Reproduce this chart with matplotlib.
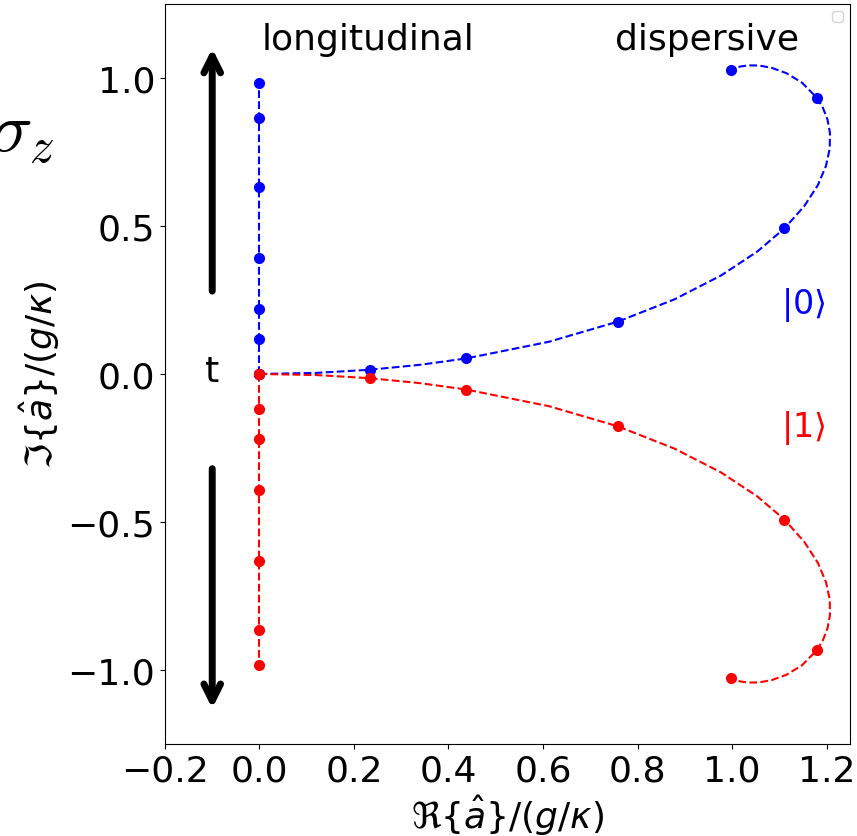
import matplotlib
matplotlib.use("Agg")
import matplotlib.pyplot as plt

# Marker samples (longitudinal: along imaginary axis)
long_y_up = [0.0, 0.1175, 0.2212, 0.3935, 0.6321, 0.8647, 0.9817]
long_y_down = [0.0, -0.1175, -0.2212, -0.3935, -0.6321, -0.8647, -0.9817]

# Dispersive marker samples
disp_x = [0.0, 0.2344, 0.4381, 0.7585, 1.1108, 1.1794, 0.9981]
disp_y0 = [0.0, 0.0144, 0.0527, 0.1769, 0.4917, 0.9333, 1.0258]
disp_y1 = [0.0, -0.0144, -0.0527, -0.1769, -0.4917, -0.9333, -1.0258]

# Dispersive trajectory (dense curve)
curve_x = [0.0, 0.1211, 0.2344, 0.3400, 0.4381, 0.6122, 0.7585, 0.8791, 0.9764,
           1.0528, 1.1108, 1.1529, 1.1816, 1.1988, 1.2068, 1.2073, 1.2020,
           1.1923, 1.1794, 1.1482, 1.1149, 1.0835, 1.0563, 1.0344, 1.0177,
           1.0059, 0.9981]
curve_y0 = [0.0, 0.0037, 0.0144, 0.0310, 0.0527, 0.1087, 0.1769, 0.2528, 0.3324,
            0.4128, 0.4917, 0.5671, 0.6378, 0.7028, 0.7616, 0.8141, 0.8600,
            0.8996, 0.9333, 0.9842, 1.0166, 1.0347, 1.0423, 1.0427, 1.0389,
            1.0327, 1.0258]
curve_y1 = [-v for v in curve_y0]

fs = 26
fig = plt.figure(figsize=(8.57, 8.37), dpi=100)
ax = fig.add_axes([0.1925, 0.110, 0.7995, 0.884])

# longitudinal
ax.plot([0.0] * len(long_y_up), long_y_up, 'o--', color='blue', ms=7, lw=1.5)
ax.plot([0.0] * len(long_y_down), long_y_down, 'o--', color='red', ms=7, lw=1.5)

# dispersive
ax.plot(curve_x, curve_y0, '--', color='blue', lw=1.5)
ax.plot(curve_x, curve_y1, '--', color='red', lw=1.5)
ax.plot(disp_x, disp_y0, 'o', color='blue', ms=7)
ax.plot(disp_x, disp_y1, 'o', color='red', ms=7)

# arrows
ax.annotate('', xy=(-0.1, 1.1), xytext=(-0.1, 0.28),
            arrowprops=dict(arrowstyle='->', lw=5, color='black', mutation_scale=30,
                            shrinkA=0, shrinkB=0))
ax.annotate('', xy=(-0.1, -1.13), xytext=(-0.1, -0.32),
            arrowprops=dict(arrowstyle='->', lw=5, color='black', mutation_scale=30,
                            shrinkA=0, shrinkB=0))
ax.text(-0.1, 0.01, 't', fontsize=fs, ha='center', va='center')

ax.text(0.005, 1.098, 'longitudinal', fontsize=fs, ha='left', va='baseline')
ax.text(0.753, 1.098, 'dispersive', fontsize=fs, ha='left', va='baseline')
ax.text(1.151, 0.236, r'$|0\rangle$', fontsize=24, color='blue', ha='center', va='center')
ax.text(1.151, -0.18, r'$|1\rangle$', fontsize=24, color='red', ha='center', va='center')

fig.text(-0.0117, 0.8184, r'$\sigma_z$', fontsize=50, math_fontfamily='cm',
         ha='left', va='baseline')

ax.set_xlim(-0.2, 1.25)
ax.set_ylim(-1.25, 1.25)
ax.set_xticks([-0.2, 0.0, 0.2, 0.4, 0.6, 0.8, 1.0, 1.2])
ax.set_yticks([-1.0, -0.5, 0.0, 0.5, 1.0])
ax.tick_params(labelsize=fs)
ax.set_xlabel(r'$\Re\{\hat{a}\}/(g/\kappa)$', fontsize=fs)
ax.set_ylabel(r'$\Im\{\hat{a}\}/(g/\kappa)$', fontsize=fs)
ax.legend(handles=[], loc='upper right')

fig.savefig('out.png', dpi=100)
